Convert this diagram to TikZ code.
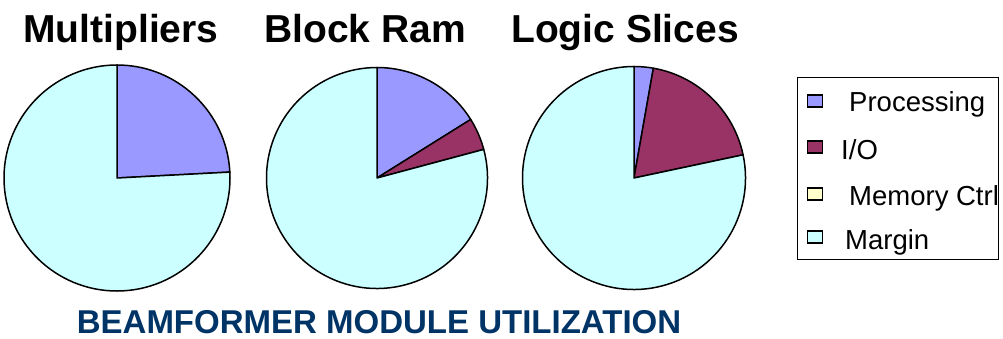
\documentclass[tikz,border=0pt]{standalone}
\usepackage{fontspec}
\setmainfont{Liberation Sans}
\definecolor{proc}{HTML}{9999FF}
\definecolor{io}{HTML}{993366}
\definecolor{mem}{HTML}{FFFFCC}
\definecolor{margin}{HTML}{CCFFFF}
\definecolor{navy}{HTML}{003366}
\begin{document}
\begin{tikzpicture}[x=1pt,y=1pt,
  slice/.style={draw=black, line width=1.5pt, line join=round},
  charttitle/.style={anchor=base, inner sep=0pt, font=\fontsize{39}{46}\selectfont\bfseries},
  legtext/.style={anchor=base west, inner sep=0pt, font=\fontsize{27.5}{32}\selectfont},
  legkey/.style={draw=black, line width=1.3pt, minimum width=15pt, minimum height=12pt, inner sep=0pt}]
\useasboundingbox (0,0) rectangle (1003,338);
% titles
\node[charttitle] (t1) at (121,295) {Multipliers};
\node[charttitle] (t2) at (365,295) {Block Ram};
\node[charttitle] (t3) at (625,295) {Logic Slices};
% pie 1
\coordinate (c1) at (117,160);
\filldraw[slice, fill=proc] (c1) -- ++(90:113) arc[start angle=90, end angle=3, radius=113] -- cycle;
\filldraw[slice, fill=margin] (c1) -- ++(3:113) arc[start angle=3, end angle=-270, radius=113] -- cycle;
% pie 2
\coordinate (c2) at (377,160);
\filldraw[slice, fill=proc] (c2) -- ++(90:110.5) arc[start angle=90, end angle=32, radius=110.5] -- cycle;
\filldraw[slice, fill=io] (c2) -- ++(32:110.5) arc[start angle=32, end angle=15, radius=110.5] -- cycle;
\filldraw[slice, fill=margin] (c2) -- ++(15:110.5) arc[start angle=15, end angle=-270, radius=110.5] -- cycle;
% pie 3
\coordinate (c3) at (634,160);
\filldraw[slice, fill=proc] (c3) -- ++(90:111.5) arc[start angle=90, end angle=80, radius=111.5] -- cycle;
\filldraw[slice, fill=io] (c3) -- ++(80:111.5) arc[start angle=80, end angle=12, radius=111.5] -- cycle;
\filldraw[slice, fill=margin] (c3) -- ++(12:111.5) arc[start angle=12, end angle=-270, radius=111.5] -- cycle;
% legend
\node[draw=black, line width=1.3pt, minimum width=201pt, minimum height=182pt, inner sep=0pt, anchor=south west] (leg) at (797,78) {};
\node[legkey, fill=proc] (k1) at (815,237) {};
\node[legkey, fill=io] (k2) at (815,191) {};
\node[legkey, fill=mem] (k3) at (815,144) {};
\node[legkey, fill=margin] (k4) at (815,101) {};
\node[legtext] (l1) at (849,226) {Processing};
\node[legtext] (l2) at (841,179) {I/O};
\node[legtext] (l3) at (849,133) {Memory Ctrl};
\node[legtext] (l4) at (845,89) {Margin};
% bottom title
\node[anchor=base, inner sep=0pt, text=navy, font=\fontsize{33}{39}\selectfont\bfseries] (bt) at (379,5) {BEAMFORMER MODULE UTILIZATION};
\end{tikzpicture}
\end{document}
